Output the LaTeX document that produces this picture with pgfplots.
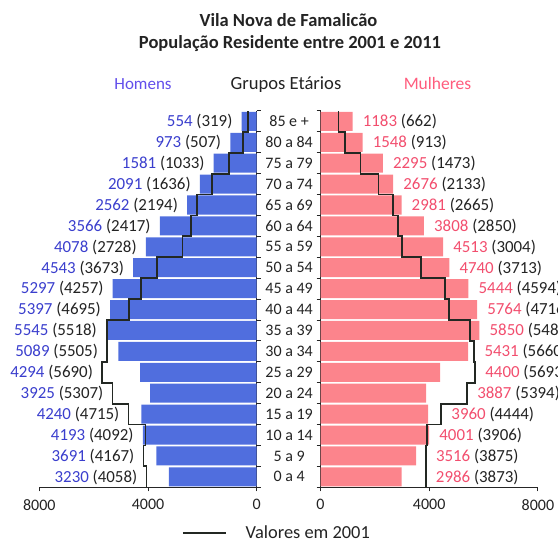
\documentclass[border=0pt]{standalone}
\usepackage{pgfplots}
\pgfplotsset{compat=1.18}
\usepackage{pgfplotstable}
\usepackage{fontspec}
\setmainfont{Carlito}
\definecolor{barblue}{RGB}{80,110,222}
\definecolor{barpink}{RGB}{252,132,140}
\definecolor{txtblue}{RGB}{58,62,205}
\definecolor{txtpink}{RGB}{242,78,110}
\definecolor{hdrblue}{RGB}{98,78,235}
\definecolor{hdrpink}{RGB}{255,92,125}
\definecolor{stepcol}{RGB}{35,40,35}
\definecolor{txtdark}{RGB}{35,35,35}

% idx: 0 = "0 a 4", ..., 17 = "85 e +"
\pgfplotstableread{
idx m11 m01 f11 f01
0 3230 4058 2986 3873
1 3691 4167 3516 3875
2 4193 4092 4001 3906
3 4240 4715 3960 4444
4 3925 5307 3887 5394
5 4294 5690 4400 5693
6 5089 5505 5431 5660
7 5545 5518 5850 5488
8 5397 4695 5764 4716
9 5297 4257 5444 4594
10 4543 3673 4740 3713
11 4078 2728 4513 3004
12 3566 2417 3808 2850
13 2562 2194 2981 2665
14 2091 1636 2676 2133
15 1581 1033 2295 1473
16 973 507 1548 913
17 554 319 1183 662
}\datatable

\pgfplotsset{
  pyr/.style={
    width=217.4pt, height=376.4pt, scale only axis,
    xmin=0, xmax=8000, ymin=-0.5, ymax=17.5,
    xtick={0,4000,8000}, ytick={-0.5,0.5,...,17.5}, yticklabels={},
    tick align=outside, major tick length=4pt,
    /pgf/number format/assume math mode=true,
    /pgf/number format/1000 sep={},
    x tick label style={font=\fontsize{16}{16}\selectfont, text=txtdark, inner sep=2pt, yshift=-6pt},
    axis line style={line width=0.9pt, color=black!85},
    tick style={line width=0.9pt, color=black!85},
    clip=false,
  },
}
\tikzset{
  vlab/.style={font=\fontsize{16.9}{18}\selectfont, text=txtdark, inner sep=0pt, yshift=-5.3pt},
  alab/.style={font=\fontsize{16}{18}\selectfont, text=txtdark, inner sep=0pt, anchor=base, yshift=-5.1pt, xshift=32.4pt},
}

\begin{document}
\begin{tikzpicture}
% ---------------- Homens (left) ----------------
\begin{axis}[pyr,
  at={(39.3pt,54.7pt)}, anchor=south west,
  x dir=reverse,
  axis x line*=bottom, axis y line*=right,
  legend style={draw=none, fill=none, at={(axis description cs:1.093,-0.121)}, anchor=center,
    font=\fontsize{18.4}{20}\selectfont, text=txtdark, inner sep=0pt},
  legend image code/.code={\draw[#1] (0pt,0pt) -- (43pt,0pt); \path (60pt,0pt);},
]
\addplot[xbar, fill=barblue, draw=none, bar width=0.91, forget plot]
  table[x=m11, y=idx] {\datatable};
\addplot[stepcol, line width=1.8pt, line join=miter] coordinates {
 (4058,-0.5)(4058,0.5)(4167,0.5)(4167,1.5)(4092,1.5)(4092,2.5)(4715,2.5)(4715,3.5)
 (5307,3.5)(5307,4.5)(5690,4.5)(5690,5.5)(5505,5.5)(5505,6.5)(5518,6.5)(5518,7.5)
 (4695,7.5)(4695,8.5)(4257,8.5)(4257,9.5)(3673,9.5)(3673,10.5)(2728,10.5)(2728,11.5)
 (2417,11.5)(2417,12.5)(2194,12.5)(2194,13.5)(1636,13.5)(1636,14.5)(1033,14.5)(1033,15.5)
 (507,15.5)(507,16.5)(319,16.5)(319,17.5)};
\addlegendentry{Valores em 2001}
% value labels
\node[vlab, anchor=base east, xshift=-9pt] at (axis cs:4058,0) {\textcolor{txtblue}{3230} (4058)};
\node[vlab, anchor=base east, xshift=-9pt] at (axis cs:4167,1) {\textcolor{txtblue}{3691} (4167)};
\node[vlab, anchor=base east, xshift=-9pt] at (axis cs:4193,2) {\textcolor{txtblue}{4193} (4092)};
\node[vlab, anchor=base east, xshift=-9pt] at (axis cs:4715,3) {\textcolor{txtblue}{4240} (4715)};
\node[vlab, anchor=base east, xshift=-9pt] at (axis cs:5307,4) {\textcolor{txtblue}{3925} (5307)};
\node[vlab, anchor=base east, xshift=-9pt] at (axis cs:5690,5) {\textcolor{txtblue}{4294} (5690)};
\node[vlab, anchor=base east, xshift=-9pt] at (axis cs:5505,6) {\textcolor{txtblue}{5089} (5505)};
\node[vlab, anchor=base east, xshift=-9pt] at (axis cs:5545,7) {\textcolor{txtblue}{5545} (5518)};
\node[vlab, anchor=base east, xshift=-9pt] at (axis cs:5397,8) {\textcolor{txtblue}{5397} (4695)};
\node[vlab, anchor=base east, xshift=-9pt] at (axis cs:5297,9) {\textcolor{txtblue}{5297} (4257)};
\node[vlab, anchor=base east, xshift=-9pt] at (axis cs:4543,10) {\textcolor{txtblue}{4543} (3673)};
\node[vlab, anchor=base east, xshift=-9pt] at (axis cs:4078,11) {\textcolor{txtblue}{4078} (2728)};
\node[vlab, anchor=base east, xshift=-9pt] at (axis cs:3566,12) {\textcolor{txtblue}{3566} (2417)};
\node[vlab, anchor=base east, xshift=-9pt] at (axis cs:2562,13) {\textcolor{txtblue}{2562} (2194)};
\node[vlab, anchor=base east, xshift=-9pt] at (axis cs:2091,14) {\textcolor{txtblue}{2091} (1636)};
\node[vlab, anchor=base east, xshift=-9pt] at (axis cs:1581,15) {\textcolor{txtblue}{1581} (1033)};
\node[vlab, anchor=base east, xshift=-9pt] at (axis cs:973,16) {\textcolor{txtblue}{973} (507)};
\node[vlab, anchor=base east, xshift=-9pt] at (axis cs:554,17) {\textcolor{txtblue}{554} (319)};
% age group labels
\node[alab] at (axis cs:0,0) {0 a 4};
\node[alab] at (axis cs:0,1) {5 a 9};
\node[alab] at (axis cs:0,2) {10 a 14};
\node[alab] at (axis cs:0,3) {15 a 19};
\node[alab] at (axis cs:0,4) {20 a 24};
\node[alab] at (axis cs:0,5) {25 a 29};
\node[alab] at (axis cs:0,6) {30 a 34};
\node[alab] at (axis cs:0,7) {35 a 39};
\node[alab] at (axis cs:0,8) {40 a 44};
\node[alab] at (axis cs:0,9) {45 a 49};
\node[alab] at (axis cs:0,10) {50 a 54};
\node[alab] at (axis cs:0,11) {55 a 59};
\node[alab] at (axis cs:0,12) {60 a 64};
\node[alab] at (axis cs:0,13) {65 a 69};
\node[alab] at (axis cs:0,14) {70 a 74};
\node[alab] at (axis cs:0,15) {75 a 79};
\node[alab] at (axis cs:0,16) {80 a 84};
\node[alab] at (axis cs:0,17) {85 e +};
\end{axis}

% ---------------- Mulheres (right) ----------------
\begin{axis}[pyr,
  at={(320.5pt,54.7pt)}, anchor=south west,
  axis x line*=bottom, axis y line*=left,
]
\addplot[xbar, fill=barpink, draw=none, bar width=0.91]
  table[x=f11, y=idx] {\datatable};
\addplot[stepcol, line width=1.8pt, line join=miter] coordinates {
 (3873,-0.5)(3873,0.5)(3875,0.5)(3875,1.5)(3906,1.5)(3906,2.5)(4444,2.5)(4444,3.5)
 (5394,3.5)(5394,4.5)(5693,4.5)(5693,5.5)(5660,5.5)(5660,6.5)(5488,6.5)(5488,7.5)
 (4716,7.5)(4716,8.5)(4594,8.5)(4594,9.5)(3713,9.5)(3713,10.5)(3004,10.5)(3004,11.5)
 (2850,11.5)(2850,12.5)(2665,12.5)(2665,13.5)(2133,13.5)(2133,14.5)(1473,14.5)(1473,15.5)
 (913,15.5)(913,16.5)(662,16.5)(662,17.5)};
\node[vlab, anchor=base west, xshift=10pt] at (axis cs:3873,0) {\textcolor{txtpink}{2986} (3873)};
\node[vlab, anchor=base west, xshift=10pt] at (axis cs:3875,1) {\textcolor{txtpink}{3516} (3875)};
\node[vlab, anchor=base west, xshift=10pt] at (axis cs:4001,2) {\textcolor{txtpink}{4001} (3906)};
\node[vlab, anchor=base west, xshift=10pt] at (axis cs:4444,3) {\textcolor{txtpink}{3960} (4444)};
\node[vlab, anchor=base west, xshift=10pt] at (axis cs:5394,4) {\textcolor{txtpink}{3887} (5394)};
\node[vlab, anchor=base west, xshift=10pt] at (axis cs:5693,5) {\textcolor{txtpink}{4400} (5693)};
\node[vlab, anchor=base west, xshift=10pt] at (axis cs:5660,6) {\textcolor{txtpink}{5431} (5660)};
\node[vlab, anchor=base west, xshift=10pt] at (axis cs:5850,7) {\textcolor{txtpink}{5850} (5488)};
\node[vlab, anchor=base west, xshift=10pt] at (axis cs:5764,8) {\textcolor{txtpink}{5764} (4716)};
\node[vlab, anchor=base west, xshift=10pt] at (axis cs:5444,9) {\textcolor{txtpink}{5444} (4594)};
\node[vlab, anchor=base west, xshift=10pt] at (axis cs:4740,10) {\textcolor{txtpink}{4740} (3713)};
\node[vlab, anchor=base west, xshift=10pt] at (axis cs:4513,11) {\textcolor{txtpink}{4513} (3004)};
\node[vlab, anchor=base west, xshift=10pt] at (axis cs:3808,12) {\textcolor{txtpink}{3808} (2850)};
\node[vlab, anchor=base west, xshift=10pt] at (axis cs:2981,13) {\textcolor{txtpink}{2981} (2665)};
\node[vlab, anchor=base west, xshift=10pt] at (axis cs:2676,14) {\textcolor{txtpink}{2676} (2133)};
\node[vlab, anchor=base west, xshift=10pt] at (axis cs:2295,15) {\textcolor{txtpink}{2295} (1473)};
\node[vlab, anchor=base west, xshift=10pt] at (axis cs:1548,16) {\textcolor{txtpink}{1548} (913)};
\node[vlab, anchor=base west, xshift=10pt] at (axis cs:1183,17) {\textcolor{txtpink}{1183} (662)};
\end{axis}

% ---------------- titles and headers ----------------
\node[anchor=base, font=\bfseries\fontsize{18.5}{20}\selectfont, text=txtdark, inner sep=0pt]
  at (288.5pt,515.3pt) {Vila Nova de Famalicão};
\node[anchor=base, font=\bfseries\fontsize{18.5}{20}\selectfont, text=txtdark, inner sep=0pt]
  at (290pt,493pt) {População Residente entre 2001 e 2011};
\node[anchor=base, font=\fontsize{17}{20}\selectfont, text=hdrblue, inner sep=0pt]
  at (143pt,452pt) {Homens};
\node[anchor=base, font=\fontsize{18.6}{20}\selectfont, text=txtdark, inner sep=0pt]
  at (286pt,452pt) {Grupos Etários};
\node[anchor=base, font=\fontsize{17.5}{20}\selectfont, text=hdrpink, inner sep=0pt]
  at (437.5pt,452pt) {Mulheres};

\pgfresetboundingbox
\path (0pt,0pt) rectangle (558pt,542pt);
\end{tikzpicture}
\end{document}
